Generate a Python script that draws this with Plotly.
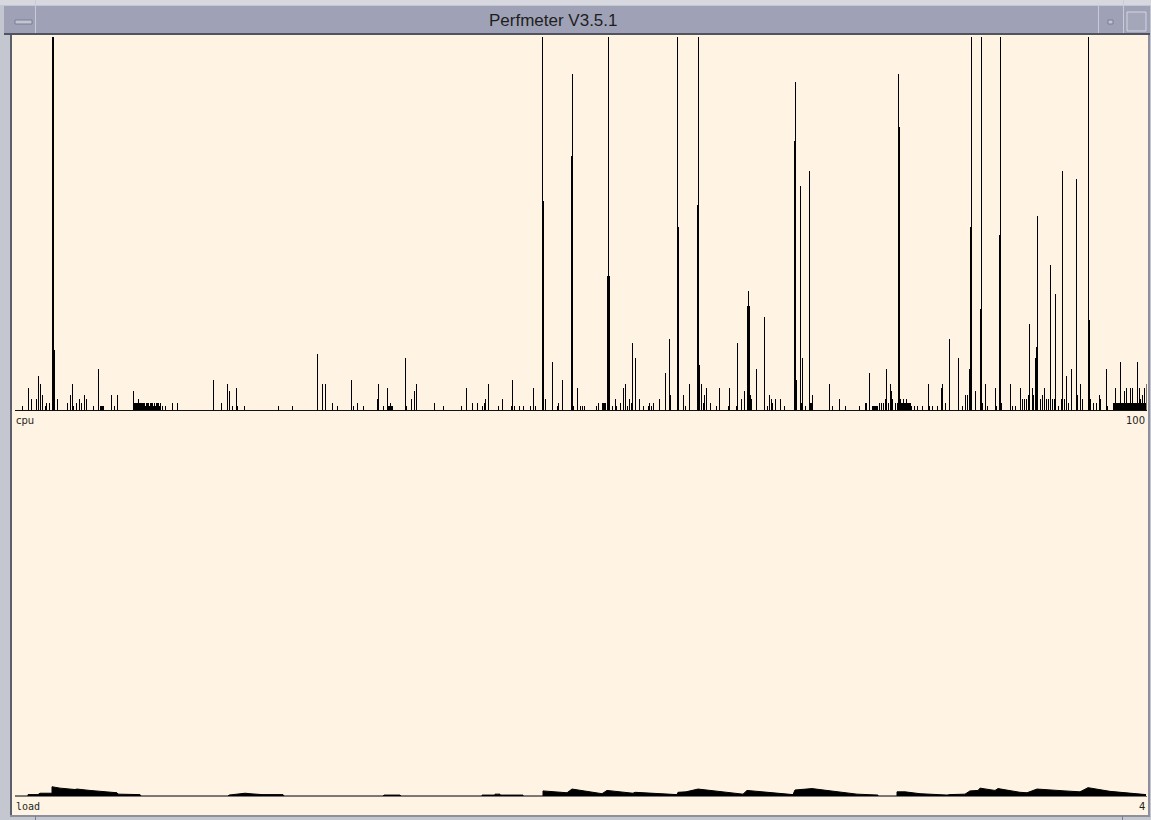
import plotly.graph_objects as go

W, H = 1151, 820

# cpu samples: column index -> percent busy
cpu_t = [22, 28, 31, 36, 38, 40, 42, 45, 46, 49, 52, 53, 54, 57, 67, 70, 72, 73, 76, 79,
         81, 84, 86, 93, 98, 100, 101, 102, 103, 111, 114, 117, 133, 134, 135, 136, 137, 138, 139, 140,
         141, 142, 143, 144, 145, 146, 147, 148, 149, 150, 151, 152, 153, 154, 155, 156, 157, 158, 159, 160,
         162, 165, 172, 177, 213, 221, 227, 229, 232, 236, 237, 244, 278, 292,
         317, 322, 325, 332, 337, 351, 353, 357, 363, 377, 378, 383, 387, 388, 389, 390, 391, 392, 405, 406,
         411, 414, 416, 434, 443, 461, 466, 472, 477, 482, 484, 485, 488, 498, 502, 511, 512, 514, 519, 523,
         530, 533, 535, 542, 543, 545, 552, 557, 558, 562, 571, 572, 573, 577, 580, 582, 584,
         596, 598, 602, 603, 604, 605, 607, 608, 609, 612, 615, 616, 620, 623, 625, 627, 629, 631, 632,
         635, 639, 643, 648, 649, 651, 653, 659, 665, 669, 670, 677, 678, 683, 685, 689, 697, 698, 699, 701,
         703, 704, 706, 710, 716, 719, 728, 729, 736, 737, 741, 744, 747, 748, 749, 750, 751, 756, 764, 767,
         769, 771, 772, 775, 780, 784, 794, 795, 796, 800, 801, 802, 805, 809, 810, 811, 812, 829, 832, 839,
         845, 859, 865, 866, 869,
         872, 873, 874, 875, 876, 877, 879, 881, 883, 885, 886, 888, 890, 891, 892, 895, 897, 898, 899, 900,
         901, 902, 903, 904, 905, 906, 907, 908, 909, 910, 911, 914, 917, 922, 928, 929, 932, 937, 941, 942,
         945, 949, 958, 962, 965, 967, 969, 970, 971, 975, 980, 981, 982, 985, 987, 995, 996, 999, 1000, 1001,
         1010, 1012, 1015, 1020, 1022, 1024, 1026, 1028, 1029, 1032, 1033, 1035, 1036, 1037, 1040, 1042, 1044, 1046, 1048, 1050,
         1052, 1054, 1055, 1058, 1061, 1062, 1064, 1066, 1068, 1071, 1076, 1077, 1080, 1082, 1088, 1089, 1090, 1093, 1096, 1099,
         1100, 1106, 1107, 1113, 1114, 1115, 1116, 1117, 1118, 1119, 1120, 1121, 1122, 1123, 1124, 1125, 1126, 1127, 1128, 1129,
         1130, 1131, 1132, 1133, 1134, 1135, 1136, 1137, 1138, 1139, 1140, 1141, 1142, 1143, 1144, 1145, 1146]
cpu_pct = [1, 6, 3, 3, 9, 7, 4, 1, 2, 2, 100, 100, 16, 3, 2, 4, 7, 1, 2, 3,
           2, 4, 3, 1, 11, 1, 1, 1, 1, 4, 1, 4, 5, 2, 2, 2, 2, 3, 2, 2,
           2, 2, 2, 2, 1, 2, 2, 2, 1, 2, 2, 2, 1, 2, 1, 2, 2, 2, 1, 2,
           1, 1, 2, 2, 8, 2, 7, 5, 1, 6, 1, 1, 1, 1,
           15, 7, 7, 2, 1, 8, 1, 2, 1, 3, 7, 1, 6, 1, 1, 2, 1, 1, 14, 1,
           3, 5, 7, 2, 1, 1, 6, 2, 2, 1, 2, 3, 7, 1, 3, 1, 8, 1, 1, 1,
           1, 6, 1, 100, 56, 3, 13, 1, 2, 8, 68, 90, 1, 6, 1, 1, 1,
           1, 2, 2, 2, 2, 2, 36, 100, 36, 1, 3, 1, 2, 6, 7, 1, 3, 2, 18,
           14, 3, 1, 1, 2, 1, 2, 3, 10, 19, 4, 100, 49, 4, 1, 7, 55, 100, 12, 7,
           2, 4, 6, 2, 1, 6, 1, 6, 1, 18, 3, 5, 28, 32, 28, 4, 3, 11, 25, 1,
           4, 3, 2, 3, 3, 1, 72, 88, 8, 60, 2, 14, 1, 64, 2, 2, 4, 7, 1, 3,
           1, 1, 2, 2, 10,
           1, 1, 1, 1, 1, 1, 2, 2, 2, 3, 11, 2, 7, 5, 3, 2, 2, 90, 76, 3,
           2, 2, 3, 2, 2, 3, 2, 2, 2, 2, 1, 1, 1, 1, 7, 1, 1, 1, 6, 7,
           2, 19, 14, 1, 4, 4, 11, 49, 100, 5, 27, 100, 2, 7, 1, 6, 1, 47, 100, 2,
           7, 1, 1, 6, 3, 3, 3, 4, 23, 6, 4, 14, 17, 52, 3, 4, 6, 3, 3, 39,
           3, 3, 31, 1, 3, 64, 3, 9, 2, 11, 62, 4, 7, 3, 100, 24, 3, 2, 2, 4,
           3, 11, 1, 2, 2, 6, 2, 2, 2, 2, 13, 2, 2, 2, 5, 2, 6, 2, 2, 2,
           6, 2, 6, 2, 2, 2, 2, 13, 2, 6, 3, 2, 4, 2, 6, 2, 7]

# load average: breakpoints (column index, load)
load_t = [15, 28, 28, 38, 40, 47, 52, 52, 60, 75, 77, 90, 117, 118, 140, 141,
          228, 229, 240, 245, 250, 262, 283, 284, 383, 384, 400, 401,
          482, 482, 495, 495, 500, 500, 523, 523, 543, 543, 567, 572, 602, 607, 633, 635,
          677, 678, 686, 698, 743, 747, 793, 795, 812, 857, 878, 878, 897, 897, 905, 920,
          947, 950, 965, 970, 978, 980, 995, 998, 1020, 1027, 1037, 1062, 1065, 1080, 1088, 1110,
          1143, 1146]
load_val = [0, 0, 0.015, 0.015, 0.03, 0.03, 0.03, 0.10, 0.085, 0.07, 0.075, 0.06, 0.035, 0.02, 0.015, 0,
            0, 0.01, 0.02, 0.03, 0.025, 0.015, 0.015, 0, 0, 0.01, 0.01, 0,
            0, 0.01, 0.01, 0.02, 0.02, 0.01, 0.01, 0, 0, 0.055, 0.035, 0.075, 0.025, 0.06, 0.03, 0.04,
            0.015, 0.04, 0.045, 0.075, 0.02, 0.06, 0.015, 0.065, 0.08, 0.02, 0.01, 0, 0, 0.045, 0.045, 0.025,
            0.01, 0.015, 0.02, 0.055, 0.06, 0.085, 0.06, 0.08, 0.04, 0.035, 0.075, 0.05, 0.055, 0.045, 0.09, 0.05,
            0.015, 0.015]


def px(x):
    return x / W


def py(y):
    return 1 - y / H


def rect(x0, y0, x1, y1, fill, line=None):
    return dict(type='rect', xref='paper', yref='paper',
                x0=px(x0), x1=px(x1), y0=py(y1), y1=py(y0),
                fillcolor=fill, line=dict(width=1 if line else 0, color=line or fill),
                layer='below')


def vline(x, y0, y1, color):
    return dict(type='line', xref='paper', yref='paper',
                x0=px(x), x1=px(x), y0=py(y0), y1=py(y1),
                line=dict(width=1, color=color), layer='above')


def label(text, x, y, anchor, family='DejaVu Sans', size=10):
    return dict(text=text, xref='paper', yref='paper', x=px(x), y=py(y),
                xanchor=anchor, yanchor='middle', showarrow=False,
                font=dict(family=family, size=size, color='#1e1e1e'))


CREAM = '#fff4e3'

fig = go.Figure()

fig.add_trace(go.Bar(
    x=cpu_t, y=cpu_pct, width=1,
    marker=dict(color='#000000', line=dict(width=0)),
    xaxis='x', yaxis='y', hoverinfo='x+y', showlegend=False
))

fig.add_trace(go.Scatter(
    x=load_t, y=load_val, mode='lines', fill='tozeroy',
    fillcolor='#000000', line=dict(color='#000000', width=1),
    xaxis='x2', yaxis='y2', hoverinfo='x+y', showlegend=False
))

ax = dict(showgrid=False, zeroline=False, showticklabels=False, ticks='', fixedrange=True)

shapes = [
    rect(0, 0, W, 5, '#d7d8df'),
    rect(4, 6, 1150, 33, '#9fa2b6'),
    rect(4, 33, 1150, 35, '#51535f'),
    rect(12, 35, 1148, 815, CREAM),
    rect(10, 35, 12, 816, '#5c5e6a'),
    rect(1148, 35, 1150, 816, '#8d8f9c'),
    rect(10, 815, 1150, 817, '#8d8f9c'),
    # window menu button
    rect(15, 20, 32, 24, '#c3c5d1', '#7b7e91'),
    # minimize / maximize
    rect(1108, 20, 1113, 24, '#c3c5d1', '#7b7e91'),
    rect(1127, 12, 1146, 31, '#a4a7ba', '#d4d5de'),
    vline(35.5, 0, 33, '#c9cbd6'),
    vline(1098.5, 6, 33, '#c9cbd6'),
    vline(1123.5, 0, 33, '#c9cbd6'),
    vline(35.5, 816, 820, '#7b7e91'),
    vline(1122.5, 816, 820, '#7b7e91'),
]

fig.update_layout(
    width=W, height=H,
    margin=dict(l=0, r=0, t=0, b=0),
    paper_bgcolor='#c4c6d0',
    plot_bgcolor=CREAM,
    bargap=0,
    xaxis=dict(domain=[px(14.5), px(1146.5)], range=[14.5, 1146.5],
               showline=True, linecolor='#111111', linewidth=1, anchor='y', **ax),
    yaxis=dict(domain=[py(410), py(37)], range=[0, 100], anchor='x', **ax),
    xaxis2=dict(domain=[px(14.5), px(1146.5)], range=[14.5, 1146.5],
                showline=True, linecolor='#777777', linewidth=1, anchor='y2', **ax),
    yaxis2=dict(domain=[py(796), py(426)], range=[0, 4], anchor='x2', **ax),
    shapes=shapes,
    annotations=[
        label('Perfmeter V3.5.1', 553, 20, 'center', family='Liberation Sans', size=17),
        label('cpu', 14, 420, 'left'),
        label('100', 1147, 420, 'right'),
        label('load', 14, 806, 'left', family='DejaVu Sans Mono'),
        label('4', 1147, 806, 'right'),
    ],
)

fig.write_html("out.html", config={'displayModeBar': False},
               post_script="document.body.style.margin='0';")
